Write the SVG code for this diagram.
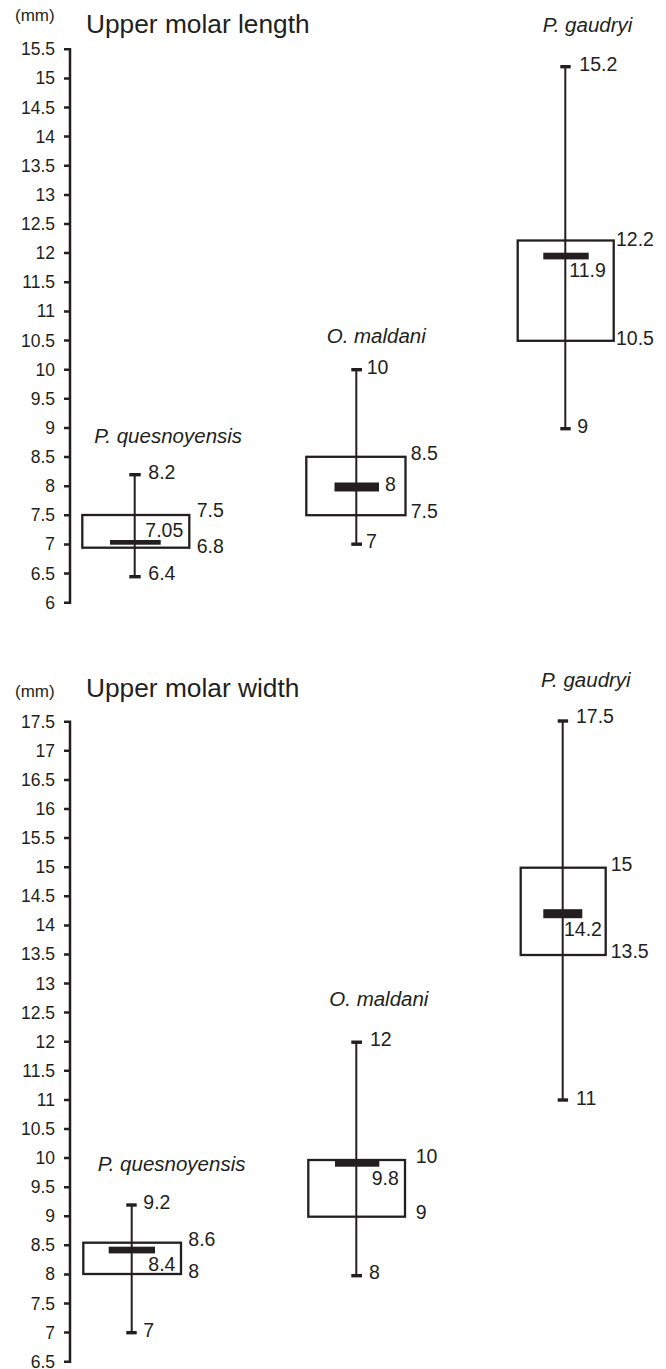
<svg xmlns="http://www.w3.org/2000/svg" width="666" height="1369" viewBox="0 0 666 1369">
<style>
text{font-family:"Liberation Sans",Arial,sans-serif;fill:#231f20}
.tk{font-size:17.5px;text-anchor:end}
.v{font-size:19.5px}
.sp{font-size:20.5px;font-style:italic}
.ti{font-size:26.3px}
.mm{font-size:17px}
.ax{stroke:#231f20;stroke-width:2.5;fill:none}
.box{stroke:#231f20;stroke-width:2.3;fill:none}
.wh{stroke:#231f20;stroke-width:2;fill:none}
.cap,.med{fill:#231f20}
</style>
<rect width="666" height="1369" fill="#fff"/>

<!-- Top chart: Upper molar length -->
<g id="chart-length">
<g id="length-header">
<text class="mm" x="15" y="20.5">(mm)</text>
<text class="ti" x="86" y="33.3">Upper molar length</text>
</g>
<g id="length-axis">
<path class="ax" d="M70,48 V603.9 M64,49.2 H70 M64,78.4 H70 M64,107.5 H70 M64,136.6 H70 M64,165.8 H70 M64,194.9 H70 M64,224 H70 M64,253.1 H70 M64,282.3 H70 M64,311.4 H70 M64,340.5 H70 M64,369.7 H70 M64,398.8 H70 M64,427.9 H70 M64,457.1 H70 M64,486.2 H70 M64,515.3 H70 M64,544.4 H70 M64,573.6 H70 M64,602.7 H70"/>
<text class="tk" x="55" y="55.2">15.5</text>
<text class="tk" x="55" y="84.4">15</text>
<text class="tk" x="55" y="113.5">14.5</text>
<text class="tk" x="55" y="142.6">14</text>
<text class="tk" x="55" y="171.8">13.5</text>
<text class="tk" x="55" y="200.9">13</text>
<text class="tk" x="55" y="230">12.5</text>
<text class="tk" x="55" y="259.1">12</text>
<text class="tk" x="55" y="288.3">11.5</text>
<text class="tk" x="55" y="317.4">11</text>
<text class="tk" x="55" y="346.5">10.5</text>
<text class="tk" x="55" y="375.7">10</text>
<text class="tk" x="55" y="404.8">9.5</text>
<text class="tk" x="55" y="433.9">9</text>
<text class="tk" x="55" y="463.1">8.5</text>
<text class="tk" x="55" y="492.2">8</text>
<text class="tk" x="55" y="521.3">7.5</text>
<text class="tk" x="55" y="550.4">7</text>
<text class="tk" x="55" y="579.6">6.5</text>
<text class="tk" x="55" y="608.7">6</text>
</g>
<g id="length-pq">
<text class="sp" x="94.3" y="443.3">P. quesnoyensis</text>
<line class="wh" x1="134.7" y1="474.7" x2="134.7" y2="576.7"/>
<rect class="cap" x="129.3" y="473" width="11.4" height="3.4"/>
<rect class="cap" x="129.3" y="575" width="11.4" height="3.4"/>
<rect class="box" x="82.3" y="515" width="107" height="32.7"/>
<rect class="med" x="110" y="540" width="50.7" height="4.7"/>
<text class="v" x="148.3" y="479.3">8.2</text>
<text class="v" x="196.7" y="516.7">7.5</text>
<text class="v" x="145.3" y="536.7">7.05</text>
<text class="v" x="196.7" y="553.3">6.8</text>
<text class="v" x="148.3" y="580">6.4</text>
</g>
<g id="length-om">
<text class="sp" x="326.7" y="342.7">O. maldani</text>
<line class="wh" x1="356.3" y1="369.7" x2="356.3" y2="544.2"/>
<rect class="cap" x="351.3" y="368" width="10.7" height="3.4"/>
<rect class="cap" x="351.3" y="542.5" width="10.7" height="3.4"/>
<rect class="box" x="306.3" y="456.8" width="99.2" height="58.4"/>
<rect class="med" x="334.5" y="482.5" width="44.5" height="9"/>
<text class="v" x="366.7" y="374">10</text>
<text class="v" x="410.7" y="460">8.5</text>
<text class="v" x="385" y="490.7">8</text>
<text class="v" x="410.7" y="518.3">7.5</text>
<text class="v" x="366" y="548.3">7</text>
</g>
<g id="length-pg">
<text class="sp" x="542.7" y="31.7">P. gaudryi</text>
<line class="wh" x1="565.3" y1="66.7" x2="565.3" y2="428.7"/>
<rect class="cap" x="560.3" y="65" width="10.4" height="3.4"/>
<rect class="cap" x="560.3" y="427" width="10.4" height="3.4"/>
<rect class="box" x="517.7" y="240.5" width="96" height="100.3"/>
<rect class="med" x="543.3" y="252.7" width="45.4" height="6.7"/>
<text class="v" x="579.3" y="70.7">15.2</text>
<text class="v" x="616" y="246">12.2</text>
<text class="v" x="569.3" y="277.3">11.9</text>
<text class="v" x="616" y="345">10.5</text>
<text class="v" x="577.3" y="432.7">9</text>
</g>
</g>

<!-- Bottom chart: Upper molar width -->
<g id="chart-width">
<g id="width-header">
<text class="mm" x="15" y="696.5">(mm)</text>
<text class="ti" x="86" y="697">Upper molar width</text>
</g>
<g id="width-axis">
<path class="ax" d="M70,720.5 V1362.9 M64,721.7 H70 M64,750.8 H70 M64,779.9 H70 M64,809 H70 M64,838.1 H70 M64,867.2 H70 M64,896.3 H70 M64,925.4 H70 M64,954.4 H70 M64,983.5 H70 M64,1012.6 H70 M64,1041.7 H70 M64,1070.8 H70 M64,1099.9 H70 M64,1129 H70 M64,1158.1 H70 M64,1187.2 H70 M64,1216.3 H70 M64,1245.3 H70 M64,1274.4 H70 M64,1303.5 H70 M64,1332.6 H70 M64,1361.7 H70"/>
<text class="tk" x="55" y="727.7">17.5</text>
<text class="tk" x="55" y="756.8">17</text>
<text class="tk" x="55" y="785.9">16.5</text>
<text class="tk" x="55" y="815">16</text>
<text class="tk" x="55" y="844.1">15.5</text>
<text class="tk" x="55" y="873.2">15</text>
<text class="tk" x="55" y="902.3">14.5</text>
<text class="tk" x="55" y="931.4">14</text>
<text class="tk" x="55" y="960.4">13.5</text>
<text class="tk" x="55" y="989.5">13</text>
<text class="tk" x="55" y="1018.6">12.5</text>
<text class="tk" x="55" y="1047.7">12</text>
<text class="tk" x="55" y="1076.8">11.5</text>
<text class="tk" x="55" y="1105.9">11</text>
<text class="tk" x="55" y="1135">10.5</text>
<text class="tk" x="55" y="1164.1">10</text>
<text class="tk" x="55" y="1193.2">9.5</text>
<text class="tk" x="55" y="1222.3">9</text>
<text class="tk" x="55" y="1251.3">8.5</text>
<text class="tk" x="55" y="1280.4">8</text>
<text class="tk" x="55" y="1309.5">7.5</text>
<text class="tk" x="55" y="1338.6">7</text>
<text class="tk" x="55" y="1367.7">6.5</text>
</g>
<g id="width-pq">
<text class="sp" x="97.7" y="1170.7">P. quesnoyensis</text>
<line class="wh" x1="131.7" y1="1205" x2="131.7" y2="1332.7"/>
<rect class="cap" x="126.3" y="1203.3" width="10.4" height="3.4"/>
<rect class="cap" x="126.3" y="1331" width="10.4" height="3.4"/>
<rect class="box" x="83.3" y="1242.7" width="97.7" height="31.3"/>
<rect class="med" x="108.7" y="1246.7" width="46.3" height="6.7"/>
<text class="v" x="143.3" y="1209.3">9.2</text>
<text class="v" x="188.3" y="1246">8.6</text>
<text class="v" x="148.3" y="1270.7">8.4</text>
<text class="v" x="188.3" y="1278.3">8</text>
<text class="v" x="143.3" y="1337.3">7</text>
</g>
<g id="width-om">
<text class="sp" x="329.3" y="1005.7">O. maldani</text>
<line class="wh" x1="356.3" y1="1042.2" x2="356.3" y2="1275.5"/>
<rect class="cap" x="351.3" y="1040.5" width="10.7" height="3.4"/>
<rect class="cap" x="351.3" y="1274" width="10.7" height="3.4"/>
<rect class="box" x="308.3" y="1160" width="96.7" height="56.7"/>
<rect class="med" x="335" y="1160" width="44.3" height="6.7"/>
<text class="v" x="370" y="1046">12</text>
<text class="v" x="415.7" y="1162.7">10</text>
<text class="v" x="371.7" y="1185">9.8</text>
<text class="v" x="415.7" y="1219.3">9</text>
<text class="v" x="369" y="1279.3">8</text>
</g>
<g id="width-pg">
<text class="sp" x="541" y="686.5">P. gaudryi</text>
<line class="wh" x1="562.7" y1="721" x2="562.7" y2="1100"/>
<rect class="cap" x="557.7" y="719.3" width="10.4" height="3.4"/>
<rect class="cap" x="557.7" y="1098.3" width="10.4" height="3.4"/>
<rect class="box" x="520.7" y="867.7" width="85" height="87.3"/>
<rect class="med" x="543.3" y="909.2" width="39" height="9"/>
<text class="v" x="576" y="723.3">17.5</text>
<text class="v" x="610.7" y="870.7">15</text>
<text class="v" x="564" y="936">14.2</text>
<text class="v" x="610.7" y="957.7">13.5</text>
<text class="v" x="576" y="1105">11</text>
</g>
</g>
</svg>
